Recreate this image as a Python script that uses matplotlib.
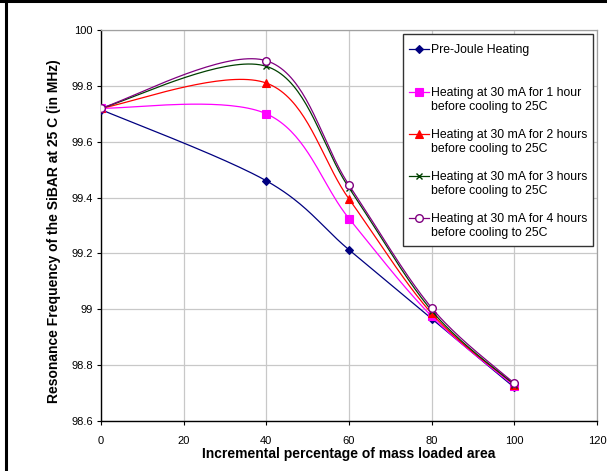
import numpy as np
import matplotlib
matplotlib.use("Agg")
import matplotlib.pyplot as plt
from matplotlib.lines import Line2D
from matplotlib.patches import Rectangle

plt.rcParams['font.family'] = ['Liberation Sans', 'DejaVu Sans']

# Mass loaded area (%) and resonance frequency (MHz) for each heating condition
mass_loaded = [0, 40, 60, 80, 100]
pre_joule = [99.715, 99.46, 99.213, 98.966, 98.72]
heat_1h = [99.72, 99.70, 99.325, 98.975, 98.725]
heat_2h = [99.72, 99.81, 99.395, 98.985, 98.730]
heat_3h = [99.72, 99.87, 99.435, 98.995, 98.730]
heat_4h = [99.72, 99.89, 99.445, 99.005, 98.735]

series_labels = [
    "Pre-Joule Heating",
    "Heating at 30 mA for 1 hour\nbefore cooling to 25C",
    "Heating at 30 mA for 2 hours\nbefore cooling to 25C",
    "Heating at 30 mA for 3 hours\nbefore cooling to 25C",
    "Heating at 30 mA for 4 hours\nbefore cooling to 25C",
]
x_ticks = [0, 20, 40, 60, 80, 100, 120]
y_ticks = [98.6, 98.8, 99.0, 99.2, 99.4, 99.6, 99.8, 100.0]
y_tick_labels = ["98.6", "98.8", "99", "99.2", "99.4", "99.6", "99.8", "100"]

styles = [
    dict(color="#000080", marker="D", ms=4.5, mfc="#000080", mec="#000080"),
    dict(color="#FF00FF", marker="s", ms=5.5, mfc="#FF00FF", mec="#FF00FF"),
    dict(color="#FF0000", marker="^", ms=6, mfc="#FF0000", mec="#FF0000"),
    dict(color="#004000", marker="x", ms=5, mfc="none", mec="#004000", mew=1.0),
    dict(color="#800080", marker="o", ms=5.5, mfc="white", mec="#800080", mew=1.0),
]


def smooth_curve(xs, ys, n=40):
    """Cubic Bezier smoothing through every point (Catmull-Rom style)."""
    pts = np.column_stack([xs, ys]).astype(float)
    m = len(pts)
    out = [pts[0]]
    t = np.linspace(0, 1, n)[1:, None]
    for i in range(m - 1):
        p0, p1 = pts[i], pts[i + 1]
        prev = pts[i - 1] if i > 0 else pts[i]
        nxt = pts[i + 2] if i + 2 < m else pts[i + 1]
        c1 = p0 + (p1 - prev) / 6.0
        c2 = p1 - (nxt - p0) / 6.0
        seg = ((1 - t) ** 3) * p0 + 3 * ((1 - t) ** 2) * t * c1 + 3 * (1 - t) * t ** 2 * c2 + t ** 3 * p1
        out.extend(seg)
    out = np.array(out)
    return out[:, 0], out[:, 1]


W, H = 607, 471
fig = plt.figure(figsize=(W / 100, H / 100), dpi=100)
fig.patch.set_facecolor("white")

left, right, top, bottom = 101, 597, 30, 421
ax = fig.add_axes([left / W, 1 - bottom / H, (right - left) / W, (bottom - top) / H])

all_series = [pre_joule, heat_1h, heat_2h, heat_3h, heat_4h]
for k, (vals, st) in enumerate(zip(all_series, styles)):
    sx, sy = smooth_curve(mass_loaded, vals)
    ax.plot(sx, sy, color=st["color"], lw=0.9, zorder=3 + k)
    ax.plot(mass_loaded, vals, ls="none", marker=st["marker"], ms=st["ms"],
            mfc=st["mfc"], mec=st["mec"], mew=st.get("mew", 0.8), zorder=3 + k)

ax.set_xlim(0, 120)
ax.set_ylim(98.6, 100.0)
ax.set_xticks(x_ticks)
ax.set_xticklabels([str(v) for v in x_ticks])
ax.set_yticks(y_ticks)
ax.set_yticklabels(y_tick_labels)
ax.tick_params(direction="out", length=3.0, width=0.8, labelsize=8, pad=3, colors="black")
ax.tick_params(axis="x", pad=7.5)
ax.grid(True, color="#c8c8c8", lw=0.9)
ax.set_axisbelow(True)
for s in ("top", "right"):
    ax.spines[s].set_color("#a0a0a0")
    ax.spines[s].set_linewidth(0.9)
for s in ("left", "bottom"):
    ax.spines[s].set_color("black")
    ax.spines[s].set_linewidth(1.0)

ax.set_xlabel("Incremental percentage of mass loaded area", fontsize=10, fontweight="bold", labelpad=1)
ax.set_ylabel("Resonance Frequency of the SiBAR at 25 C (in MHz)", fontsize=10, fontweight="bold")
ax.yaxis.set_label_coords(-0.0806, 0.4847)


def fx(px):
    return px / W


def fy(py):
    return 1 - py / H


# Legend box
fig.add_artist(Rectangle((fx(403), fy(246)), fx(593) - fx(403), fy(34) - fy(246),
                         transform=fig.transFigure, facecolor="white", edgecolor="#333333",
                         lw=1.0, zorder=20))
entry_y = [49, 91.5, 133.5, 175.5, 217.5]
for yy, lab, st in zip(entry_y, series_labels, styles):
    fig.add_artist(Line2D([fx(409), fx(429)], [fy(yy), fy(yy)], transform=fig.transFigure,
                          color=st["color"], lw=0.9, zorder=21))
    fig.add_artist(Line2D([fx(419)], [fy(yy)], transform=fig.transFigure, ls="none",
                          marker=st["marker"], ms=st["ms"], mfc=st["mfc"], mec=st["mec"],
                          mew=st.get("mew", 0.8), zorder=22))
    for j, line in enumerate(lab.split("\n")):
        fig.text(fx(431), fy(yy + 14.3 * j), line, fontsize=8.8, va="center_baseline",
                 ha="left", zorder=23)

# Outer frame (left and top edges)
fig.add_artist(Line2D([fx(6), fx(6)], [0, 1], transform=fig.transFigure, color="black", lw=2.2))
fig.add_artist(Line2D([0, 1], [fy(1), fy(1)], transform=fig.transFigure, color="black", lw=2.2))

fig.savefig("out.png", dpi=100, facecolor="white")
